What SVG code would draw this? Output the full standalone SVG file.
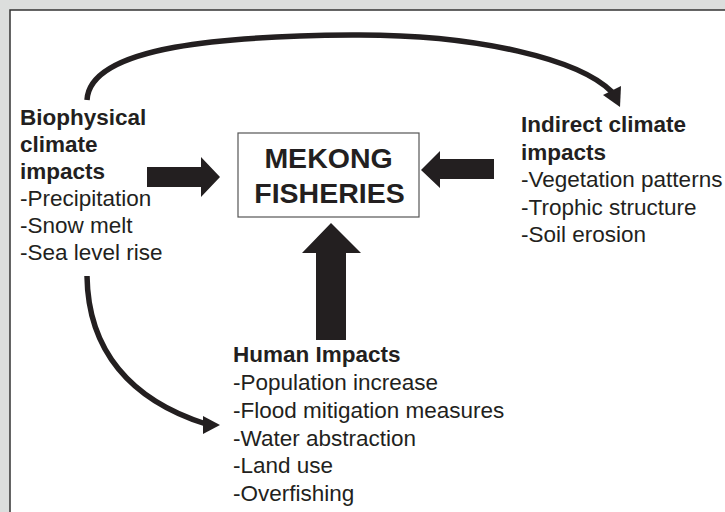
<svg xmlns="http://www.w3.org/2000/svg" width="725" height="512" viewBox="0 0 725 512">
<style>
text{font-family:"Liberation Sans",Arial,sans-serif;fill:#231f20;font-size:22.5px}
.b{font-weight:bold}
.t{font-size:28.5px;font-weight:bold;text-anchor:middle}
.arr{fill:#231f20}
.cur{fill:none;stroke:#231f20;stroke-width:5.5}
</style>
<rect x="0" y="0" width="725" height="512" fill="#dcdedd"/>
<rect x="10" y="10" width="730" height="520" fill="#ffffff" stroke="#333" stroke-width="1.5"/>
<g id="connectors">
<path class="cur" d="M87,100 C90,45 230,36 352,35 C480,34 580,60 612,92"/>
<polygon class="arr" points="603,95 621,86 620,107"/>
<path class="cur" d="M87,276 C88,350 130,400 206,424"/>
<polygon class="arr" points="203,416 220,425 203,434"/>
<polygon class="arr" points="147,167 201,167 201,157 220,177 201,197 201,187 147,187"/>
<polygon class="arr" points="494,159 440,159 440,151 421,170 440,188 440,179 494,179"/>
<polygon class="arr" points="316,340 316,253 302,253 331,223 361,253 346,253 346,340"/>
</g>
<g id="fisheries">
<rect x="238" y="133" width="181" height="84" fill="#fff" stroke="#555" stroke-width="1.2"/>
<text class="t" x="328.5" y="168">MEKONG</text>
<text class="t" x="329.5" y="203">FISHERIES</text>
</g>
<g id="biophysical">
<text class="b" x="20" y="125">Biophysical</text>
<text class="b" x="20" y="152">climate</text>
<text class="b" x="20" y="179">impacts</text>
<text x="20" y="206">-Precipitation</text>
<text x="20" y="233">-Snow melt</text>
<text x="20" y="260">-Sea level rise</text>
</g>
<g id="indirect">
<text class="b" x="521" y="132">Indirect climate</text>
<text class="b" x="521" y="159.5">impacts</text>
<text x="521" y="187">-Vegetation patterns</text>
<text x="521" y="214.5">-Trophic structure</text>
<text x="521" y="242">-Soil erosion</text>
</g>
<g id="human">
<text class="b" x="233" y="362">Human Impacts</text>
<text x="233" y="390">-Population increase</text>
<text x="233" y="418">-Flood mitigation measures</text>
<text x="233" y="446">-Water abstraction</text>
<text x="233" y="473">-Land use</text>
<text x="233" y="501">-Overfishing</text>
</g>
</svg>
